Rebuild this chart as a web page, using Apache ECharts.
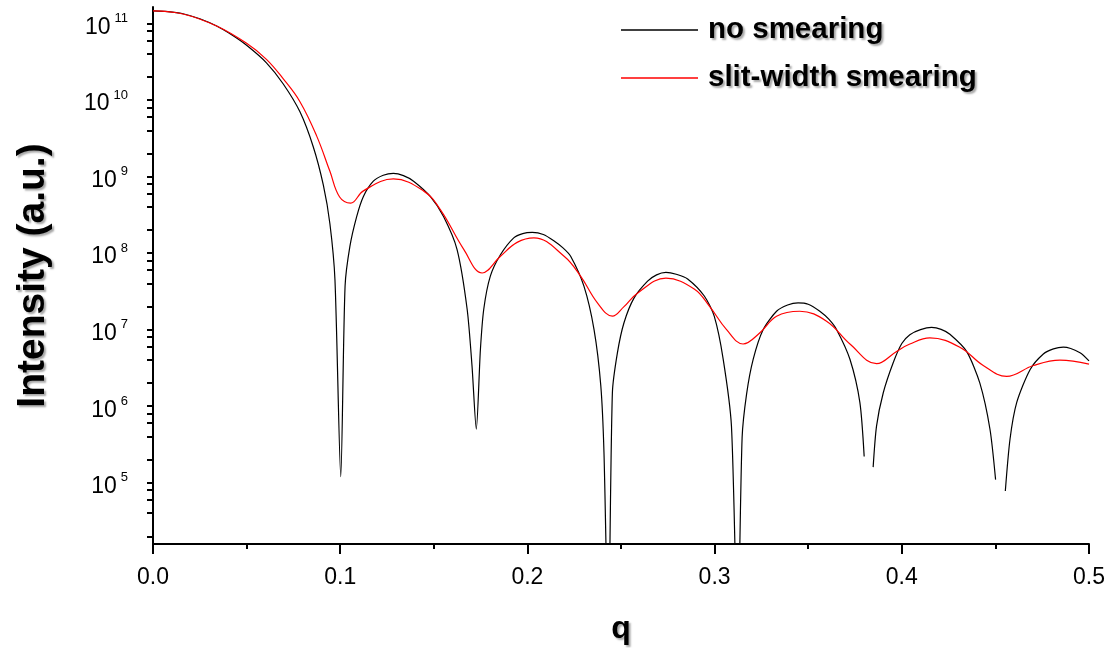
<!DOCTYPE html>
<html>
<head>
<meta charset="utf-8">
<script src="https://cdn.jsdelivr.net/npm/echarts@6/dist/echarts.min.js"></script>
<style>
  html, body { margin: 0; padding: 0; background: #fff; }
  #chart { width: 1107px; height: 648px; }
</style>
</head>
<body>
<div id="chart"></div>
<script>
// no smearing (black)
var qBlack = [0, 0.008, 0.016, 0.025, 0.034, 0.042, 0.05, 0.0606, 0.0695, 0.0785, 0.0856, 0.091, 0.0945, 0.0972, 0.1003,
  0.1026, 0.1052, 0.1088, 0.1124, 0.1177, 0.123, 0.1284, 0.1338, 0.1392, 0.1481, 0.1552, 0.1624, 0.1678, 0.1704, 0.1727,
  0.1749, 0.1767, 0.1802, 0.1856, 0.1927, 0.1975, 0.2026, 0.2085, 0.2141, 0.219, 0.2231, 0.2302, 0.2356, 0.2392, 0.2409, 0.2432,
  0.2454, 0.2481, 0.2516, 0.257, 0.2642, 0.269, 0.274, 0.2795, 0.2856, 0.2945, 0.2998, 0.3046, 0.309, 0.3123,
  0.3147, 0.3171, 0.3206, 0.3259, 0.3331, 0.339, 0.3446, 0.35, 0.3562, 0.361, 0.3652, 0.3723, 0.3776, 0.3799, 0.3823,
  0.3847, 0.3865, 0.3901, 0.3954, 0.4, 0.4043, 0.41, 0.4159, 0.421, 0.4257, 0.4346, 0.4417, 0.4471, 0.4501, 0.4527,
  0.4553, 0.4578, 0.4614, 0.4685, 0.4756, 0.481, 0.4863, 0.4952, 0.5];
var iBlack = [1.46e11, 1.43e11, 1.34e11, 1.15e11, 9.25e10, 7.1e10, 5.18e10, 3.06e10, 1.63e10, 7.0e9, 2.45e9, 7.7e8, 2.42e8, 4.5e7, 1.2e5,
  3.7e7, 1.23e8, 3.0e8, 5.5e8, 8.7e8, 1.04e9, 1.1e9, 1.03e9, 8.7e8, 5.5e8, 3.0e8, 1.12e8, 1.86e7, 3.4e6, 5.0e5,
  5.5e6, 1.86e7, 5.0e7, 9.5e7, 1.58e8, 1.8e8, 1.86e8, 1.75e8, 1.45e8, 1.17e8, 9.1e7, 3.7e7, 1.0e7, 1.86e6, 2.5e5, 1e3,
  1.5e6, 5.0e6, 1.23e7, 2.6e7, 4.3e7, 5.2e7, 5.6e7, 5.3e7, 4.6e7, 2.75e7, 1.5e7, 4.1e6, 5.5e5, 1e3,
  3.9e5, 1.45e6, 4.1e6, 1.0e7, 1.74e7, 2.1e7, 2.24e7, 2.15e7, 1.74e7, 1.37e7, 1.0e7, 4.1e6, 1.12e6, 2.2e5, null,
  1.6e5, 5.5e5, 1.5e6, 3.7e6, 6.6e6, 8.6e6, 1.0e7, 1.07e7, 1.01e7, 8.7e6, 5.2e6, 2.0e6, 5.0e5, 1.1e5, null,
  7.8e4, 3.7e5, 1.12e6, 3.0e6, 4.8e6, 5.6e6, 5.9e6, 5.0e6, 3.9e6];

// slit-width smearing (red)
var qRed = [0, 0.016, 0.034, 0.05, 0.0606, 0.0695, 0.0785, 0.0874, 0.0945, 0.0997, 0.1056, 0.1124, 0.1284, 0.1445,
  0.1535, 0.166, 0.1758, 0.1856, 0.1945, 0.2035, 0.2196, 0.2284, 0.2374, 0.2454, 0.2516, 0.2588, 0.274, 0.2891,
  0.2974, 0.3064, 0.3152, 0.3242, 0.3331, 0.3455, 0.3598, 0.3723, 0.3865, 0.3972, 0.4043, 0.415, 0.431, 0.4435,
  0.456, 0.4703, 0.4845, 0.5];
var iRed = [1.46e11, 1.33e11, 9.25e10, 5.5e10, 3.4e10, 1.9e10, 9.5e9, 3.4e9, 1.17e9, 5.4e8, 4.5e8, 6.5e8, 9.3e8, 6.5e8,
  3.7e8, 1.12e8, 5.5e7, 9.1e7, 1.38e8, 1.58e8, 9.1e7, 5.0e7, 2.24e7, 1.5e7, 2.0e7, 3.0e7, 4.7e7, 3.4e7,
  2.0e7, 1.0e7, 6.5e6, 9.1e6, 1.5e7, 1.74e7, 1.29e7, 6.5e6, 3.6e6, 5.2e6, 6.5e6, 7.8e6, 5.9e6, 3.4e6,
  2.45e6, 3.4e6, 4.0e6, 3.55e6];

// axes
var yDecades = [5, 6, 7, 8, 9, 10, 11];
var yMinorSteps = [2, 4, 6, 8];
var yMin = 1.585e4;
var yMax = 1.64e11;

var yLabelValues = yDecades.map(function (e) { return Math.pow(10, e); });
var yTickValues = [];
for (var e = 4; e <= 11; e++) {
  yTickValues.push(Math.pow(10, e));
  yMinorSteps.forEach(function (m) { yTickValues.push(m * Math.pow(10, e)); });
}
yTickValues = yTickValues.filter(function (v) { return v >= yMin && v <= yMax; });

function pairs(qs, vals) {
  return qs.map(function (q, i) { return [q, vals[i] == null ? '-' : vals[i]]; });
}

var font = "'Liberation Sans', Arial, sans-serif";
var shadow = { textShadowColor: 'rgba(0,0,0,0.35)', textShadowBlur: 2, textShadowOffsetX: 2, textShadowOffsetY: 2 };

var myChart = echarts.init(document.getElementById('chart'));
var option = {
  animation: false,
  backgroundColor: '#fff',
  grid: { left: 153, right: 18, top: 7, bottom: 104, outerBoundsMode: 'none', containLabel: false },
  legend: [
    {
      left: 621, top: 15, padding: 0, itemWidth: 77, itemHeight: 1.5, icon: 'rect',
      data: ['no smearing'],
      textStyle: Object.assign({ fontFamily: font, fontSize: 29.5, fontWeight: 'bold', color: '#000', padding: [0, 0, 0, 5] }, shadow)
    },
    {
      left: 621, top: 63, padding: 0, itemWidth: 77, itemHeight: 1.5, icon: 'rect',
      data: ['slit-width smearing'],
      textStyle: Object.assign({ fontFamily: font, fontSize: 29.5, fontWeight: 'bold', color: '#000', padding: [0, 0, 0, 5] }, shadow)
    }
  ],
  xAxis: {
    type: 'value', min: 0, max: 0.5, interval: 0.1,
    name: 'q', nameLocation: 'middle', nameGap: 69,
    nameTextStyle: Object.assign({ fontFamily: font, fontSize: 32, fontWeight: 'bold', color: '#000' }, shadow),
    axisLine: { lineStyle: { color: '#000', width: 2 } },
    axisTick: { length: 10, lineStyle: { color: '#000', width: 2 } },
    minorTick: { show: true, splitNumber: 2, length: 5, lineStyle: { color: '#000', width: 2 } },
    axisLabel: {
      margin: 22, fontFamily: font, fontSize: 23, color: '#000',
      formatter: function (v) { return v.toFixed(1); }
    },
    splitLine: { show: false }
  },
  yAxis: {
    type: 'log', logBase: 10, min: yMin, max: yMax,
    name: 'Intensity (a.u.)', nameLocation: 'middle', nameGap: 100,
    nameTextStyle: Object.assign({ fontFamily: font, fontSize: 39, fontWeight: 'bold', color: '#000' }, shadow),
    axisLine: { show: true, lineStyle: { color: '#000', width: 2 } },
    axisTick: { show: true, length: 6, customValues: yTickValues, lineStyle: { color: '#000', width: 2 } },
    axisLabel: {
      margin: 25, customValues: yLabelValues, fontFamily: font, color: '#000',
      formatter: function (v) {
        return '{b|10}{e|' + Math.round(Math.log10(v)) + '}';
      },
      rich: {
        b: { fontFamily: font, fontSize: 23, color: '#000', padding: [8, 0, 0, 0] },
        e: { fontFamily: font, fontSize: 13, color: '#000', padding: [0, 0, 10, 4] }
      }
    },
    splitLine: { show: false }
  },
  series: [
    {
      name: 'no smearing', type: 'line', data: pairs(qBlack, iBlack),
      showSymbol: false, smooth: 0.25, color: '#000', lineStyle: { width: 1.2, color: '#000' },
      connectNulls: false
    },
    {
      name: 'slit-width smearing', type: 'line', data: pairs(qRed, iRed),
      showSymbol: false, smooth: 0.4, color: '#ff0000', lineStyle: { width: 1.2, color: '#ff0000' }
    }
  ]
};
myChart.setOption(option);
window.addEventListener('resize', function () { myChart.resize(); });
</script>
</body>
</html>
